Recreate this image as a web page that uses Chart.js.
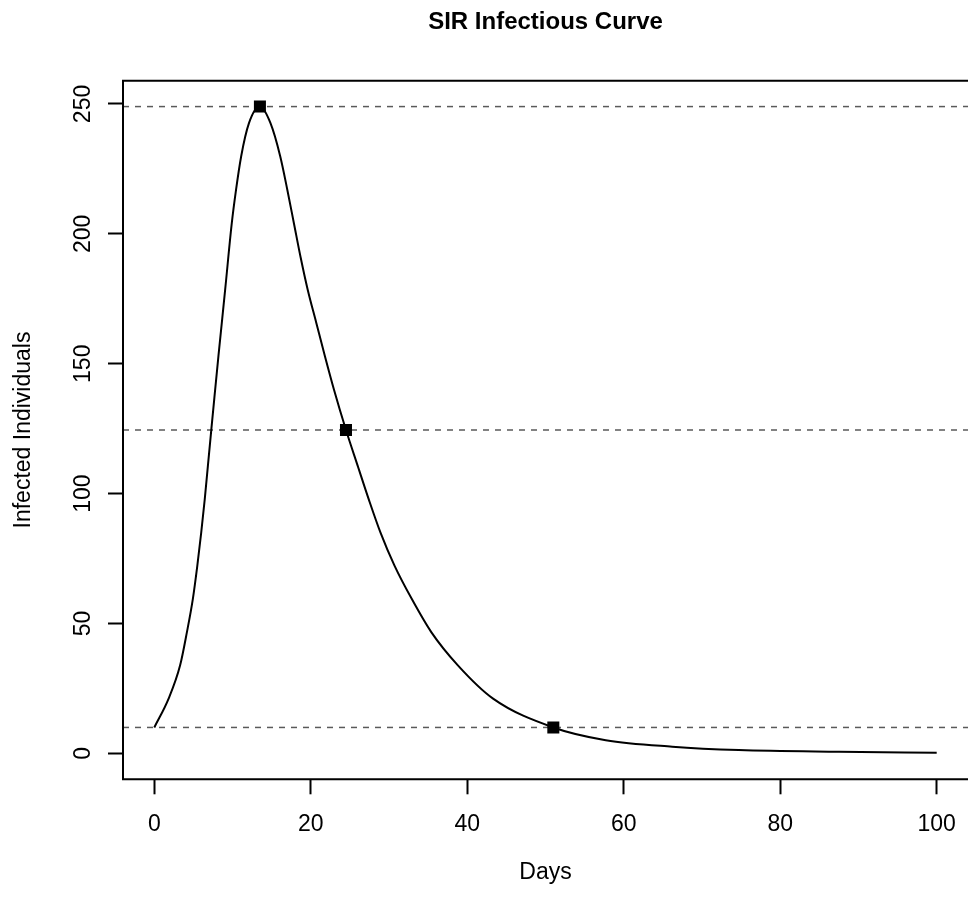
<!DOCTYPE html>
<html>
<head>
<meta charset="utf-8">
<script src="https://cdn.jsdelivr.net/npm/chart.js@4.4.1/dist/chart.umd.min.js"></script>
<style>
  html, body { margin: 0; padding: 0; background: #ffffff; }
  #wrap { width: 968px; height: 902px; }
</style>
</head>
<body>
<div id="wrap"><canvas id="c" width="968" height="902"></canvas></div>
<script>
// ---- data ----
const curveDays = [0, 1.83, 3.3, 4.17, 4.93, 5.5, 6.0, 6.45, 6.85, 7.3,
  7.65, 8.2, 9.06, 9.9, 10.45, 11.1, 12.1, 13.5, 14.85, 16.1,
  17.0, 17.85, 18.7, 19.6, 20.7, 21.8, 22.95, 24.5, 26.0, 27.4,
  28.9, 30.7, 32.9, 35.4, 38.8, 43.3, 51, 57.7, 66.2, 74.7,
  87.5, 100];
const infected = [10, 21.1, 33.9, 46.7, 59.5, 72.3, 85.1, 97.9, 110.7, 125,
  136, 153, 178.6, 204, 217, 229.8, 242.6, 249, 242.6, 229.8,
  217, 204, 191, 178.6, 165.8, 153, 140.2, 124.5, 110.7, 97.9,
  85.1, 72.3, 59.5, 46.7, 33.9, 21.1, 10, 5.1, 2.6, 1.3,
  0.65, 0.3];
const markerDays = [13.5, 24.5, 51];
const markerValues = [249, 124.5, 10];
const refLevels = [249, 124.5, 10];
const xTickValues = [0, 20, 40, 60, 80, 100];
const yTickValues = [0, 50, 100, 150, 200, 250];
const titleText = 'SIR Infectious Curve';
const xLabel = 'Days';
const yLabel = 'Infected Individuals';

const FONT = "'Liberation Sans', Arial, Helvetica, sans-serif";
const xMin = -4, xMax = 104;
const yMin = -9.96, yMax = 258.96;

const refDatasets = refLevels.map(v => ({
  type: 'line',
  data: [{x: xMin, y: v}, {x: xMax, y: v}],
  borderColor: '#5a5a5a',
  borderWidth: 1.5,
  borderDash: [6, 6],
  pointRadius: 0,
  fill: false,
  order: 3
}));

const boxPlugin = {
  id: 'box',
  afterDraw(chart) {
    const {ctx, chartArea: a} = chart;
    ctx.save();
    ctx.strokeStyle = '#000';
    ctx.lineWidth = 2;
    // plot frame: the right edge lies just beyond the canvas in the reference
    ctx.beginPath();
    ctx.moveTo(a.right + 3, a.top);
    ctx.lineTo(a.left, a.top);
    ctx.lineTo(a.left, a.bottom);
    ctx.lineTo(a.right + 3, a.bottom);
    ctx.stroke();
    // vertical y tick labels (R style)
    const ys = chart.scales.y;
    ctx.fillStyle = '#000';
    ctx.font = "23px " + FONT;
    ctx.textAlign = 'center';
    ctx.textBaseline = 'alphabetic';
    ys.ticks.forEach(t => {
      const py = ys.getPixelForValue(t.value);
      ctx.save();
      ctx.translate(89.5, py);
      ctx.rotate(-Math.PI / 2);
      ctx.fillText(String(t.value), 0, 0);
      ctx.restore();
    });
    ctx.restore();
  }
};

new Chart(document.getElementById('c'), {
  type: 'scatter',
  data: {
    datasets: [
      {
        type: 'line',
        data: curveDays.map((d, i) => ({x: d, y: infected[i]})),
        borderColor: '#000',
        borderWidth: 2,
        pointRadius: 0,
        cubicInterpolationMode: 'monotone',
        fill: false,
        order: 2
      },
      {
        type: 'scatter',
        data: markerDays.map((d, i) => ({x: d, y: markerValues[i]})),
        pointStyle: 'rect',
        pointRadius: 8.5,
        backgroundColor: '#000',
        borderColor: '#000',
        borderWidth: 0,
        order: 1
      },
      ...refDatasets
    ]
  },
  options: {
    responsive: false,
    animation: false,
    events: [],
    layout: { autoPadding: false, padding: { left: 0, right: 0, top: 0, bottom: 0 } },
    plugins: {
      legend: { display: false },
      tooltip: { enabled: false },
      title: {
        display: true,
        text: titleText,
        fullSize: false,
        color: '#000',
        font: { family: FONT, size: 24, weight: 'bold' },
        padding: { top: 8, bottom: 43.9 }
      }
    },
    scales: {
      x: {
        type: 'linear',
        min: xMin, max: xMax,
        afterBuildTicks: s => { s.ticks = xTickValues.map(v => ({value: v})); },
        afterFit: s => { s.height = 122.7; s.paddingLeft = 0; s.paddingRight = 0; },
        grid: { display: true, drawOnChartArea: false, drawTicks: true, tickLength: 15, tickColor: '#000', tickWidth: 2 },
        border: { display: false },
        ticks: { color: '#000', font: { family: FONT, size: 23 }, padding: 17, maxRotation: 0, callback: v => String(v) },
        title: { display: true, text: xLabel, color: '#000', font: { family: FONT, size: 23 }, padding: { bottom: 16 } }
      },
      y: {
        type: 'linear',
        min: yMin, max: yMax,
        afterBuildTicks: s => { s.ticks = yTickValues.map(v => ({value: v})); },
        afterFit: s => { s.width = 123; s.paddingTop = 0; s.paddingBottom = 0; },
        grid: { display: true, drawOnChartArea: false, drawTicks: true, tickLength: 15, tickColor: '#000', tickWidth: 2 },
        border: { display: false },
        ticks: { display: false },
        title: { display: true, text: yLabel, color: '#000', font: { family: FONT, size: 23 }, padding: { top: 10 } }
      }
    }
  },
  plugins: [boxPlugin]
});
</script>
</body>
</html>
